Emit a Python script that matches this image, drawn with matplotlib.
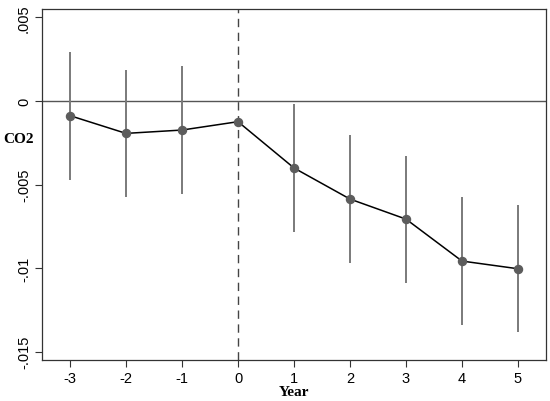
import matplotlib
matplotlib.use("Agg")
import matplotlib.pyplot as plt

years = [-3, -2, -1, 0, 1, 2, 3, 4, 5]
coef = [-0.00088, -0.00194, -0.00174, -0.00124, -0.00401, -0.00587, -0.00707, -0.00958, -0.01004]
ci_low = [-0.00473, -0.00577, -0.00557, None, -0.00786, -0.0097, -0.0109, -0.0134, -0.01385]
ci_high = [0.00293, 0.00186, 0.0021, None, -0.00018, -0.00202, -0.00327, -0.00573, -0.00621]
yticks = [0.005, 0, -0.005, -0.01, -0.015]
ytick_labels = [".005", "0", "-.005", "-.01", "-.015"]

fig = plt.figure(figsize=(5.5, 4.02), dpi=100)
ax = fig.add_axes([0.0764, 0.102, 0.9163, 0.873])

for x, lo, hi in zip(years, ci_low, ci_high):
    if lo is None:
        continue
    ax.vlines(x, lo, hi, color="#7a7a7a", linewidth=1.4, zorder=2)

ax.axhline(0, color="#555555", linewidth=1.0, zorder=1)
ax.axvline(0, color="#444444", linewidth=1.0, linestyle=(0, (6, 4)), zorder=1)
ax.plot(years, coef, color="black", linewidth=1.1, zorder=3)
ax.plot(years, coef, "o", color="#5c5c5c", markersize=5.8, zorder=4)

ax.set_xlim(-3.5, 5.5)
ax.set_ylim(-0.0155, 0.0055)
ax.set_xticks(years)
ax.set_xticklabels([str(y) for y in years], fontfamily="Liberation Sans", fontsize=10.5)
ax.set_yticks(yticks)
ax.set_yticklabels(ytick_labels, fontfamily="Liberation Sans", fontsize=10.5, rotation=90, va="center")
ax.tick_params(axis="both", length=5, width=0.8, color="#333333", pad=3)
for s in ax.spines.values():
    s.set_color("#333333")
    s.set_linewidth(0.9)

fig.text(0.005, (402 - 140) / 402, "CO2", fontfamily="Liberation Serif", fontweight="bold",
         fontsize=11, ha="left", va="center")
ax.set_xlabel("Year", fontfamily="Liberation Serif", fontweight="bold", fontsize=11, labelpad=0)

fig.savefig("out.png", dpi=100)
